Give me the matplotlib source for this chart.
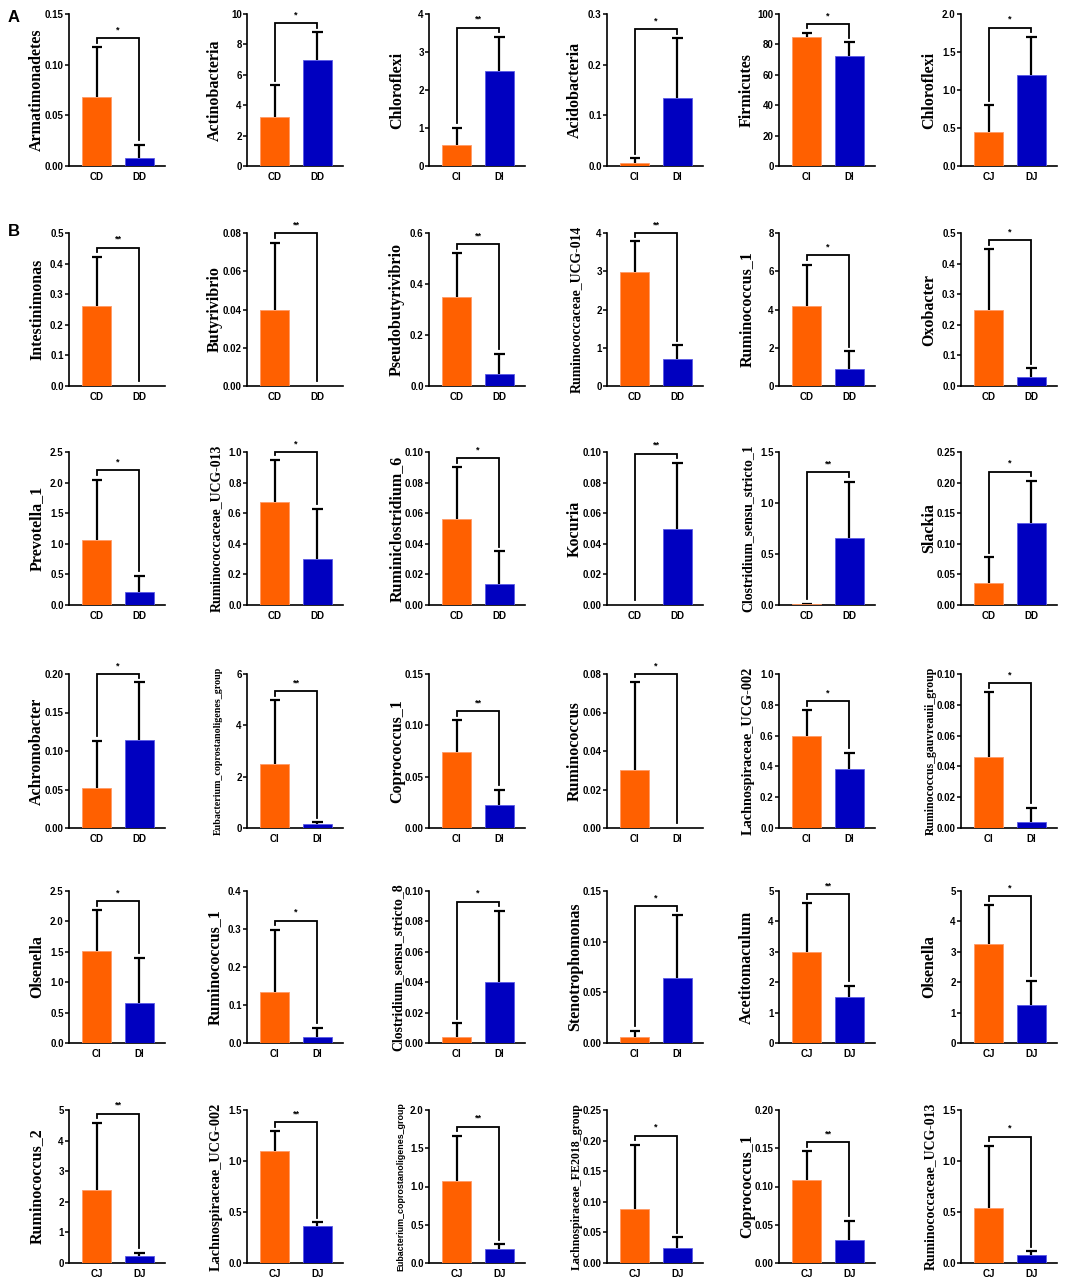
import matplotlib
matplotlib.use("Agg")
import matplotlib.pyplot as plt
import numpy as np

# ---- data ----
names = [
    "Armatimonadetes", "Actinobacteria", "Chloroflexi", "Acidobacteria", "Firmicutes", "Chloroflexi",
    "Intestinimonas", "Butyrivibrio", "Pseudobutyrivibrio", "Ruminococcaceae_UCG-014", "Ruminococcus_1", "Oxobacter",
    "Prevotella_1", "Ruminococcaceae_UCG-013", "Ruminiclostridium_6", "Kocuria", "Clostridium_sensu_stricto_1", "Slackia",
    "Achromobacter", "Eubacterium_coprostanoligenes_group", "Coprococcus_1", "Ruminococcus", "Lachnospiraceae_UCG-002", "Ruminococcus_gauvreauii_group",
    "Olsenella", "Ruminococcus_1", "Clostridium_sensu_stricto_8", "Stenotrophomonas", "Acetitomaculum", "Olsenella",
    "Ruminococcus_2", "Lachnospiraceae_UCG-002", "Eubacterium_coprostanoligenes_group", "Lachnospiraceae_FE2018_group", "Coprococcus_1", "Ruminococcaceae_UCG-013",
]
groups = [
    ("CD", "DD"), ("CD", "DD"), ("CI", "DI"), ("CI", "DI"), ("CI", "DI"), ("CJ", "DJ"),
    ("CD", "DD"), ("CD", "DD"), ("CD", "DD"), ("CD", "DD"), ("CD", "DD"), ("CD", "DD"),
    ("CD", "DD"), ("CD", "DD"), ("CD", "DD"), ("CD", "DD"), ("CD", "DD"), ("CD", "DD"),
    ("CD", "DD"), ("CI", "DI"), ("CI", "DI"), ("CI", "DI"), ("CI", "DI"), ("CI", "DI"),
    ("CI", "DI"), ("CI", "DI"), ("CI", "DI"), ("CI", "DI"), ("CJ", "DJ"), ("CJ", "DJ"),
    ("CJ", "DJ"), ("CJ", "DJ"), ("CJ", "DJ"), ("CJ", "DJ"), ("CJ", "DJ"), ("CJ", "DJ"),
]
mean_c = [0.068, 3.25, 0.55, 0.006, 85.0, 0.45,
          0.263, 0.040, 0.350, 2.97, 4.20, 0.250,
          1.06, 0.675, 0.056, 0.0, 0.008, 0.036,
          0.052, 2.48, 0.074, 0.030, 0.600, 0.046,
          1.51, 0.133, 0.004, 0.006, 3.00, 3.27,
          2.38, 1.10, 1.07, 0.089, 0.108, 0.54]
mean_d = [0.008, 6.95, 2.50, 0.134, 72.5, 1.20,
          0.0, 0.0, 0.048, 0.70, 0.90, 0.028,
          0.21, 0.300, 0.014, 0.050, 0.655, 0.134,
          0.114, 0.15, 0.022, 0.0, 0.383, 0.004,
          0.66, 0.016, 0.040, 0.064, 1.50, 1.25,
          0.23, 0.36, 0.18, 0.024, 0.030, 0.075]
sd_c = [0.049, 2.05, 0.45, 0.009, 2.5, 0.35,
        0.159, 0.035, 0.170, 0.81, 2.15, 0.197,
        0.99, 0.275, 0.034, 0.0, 0.004, 0.042,
        0.061, 2.50, 0.031, 0.046, 0.165, 0.042,
        0.67, 0.165, 0.009, 0.006, 1.60, 1.26,
        2.20, 0.19, 0.59, 0.104, 0.038, 0.61]
sd_d = [0.013, 1.85, 0.90, 0.118, 9.0, 0.50,
        0.0, 0.0, 0.078, 0.36, 0.92, 0.030,
        0.27, 0.330, 0.021, 0.043, 0.555, 0.069,
        0.075, 0.07, 0.015, 0.0, 0.104, 0.009,
        0.74, 0.024, 0.047, 0.062, 0.38, 0.80,
        0.10, 0.04, 0.065, 0.018, 0.025, 0.040]
y_max = [0.15, 10, 4, 0.3, 100, 2.0,
         0.5, 0.08, 0.6, 4, 8, 0.5,
         2.5, 1.0, 0.10, 0.10, 1.5, 0.25,
         0.20, 6, 0.15, 0.08, 1.0, 0.10,
         2.5, 0.4, 0.10, 0.15, 5, 5,
         5, 1.5, 2.0, 0.25, 0.20, 1.5]
y_step = [0.05, 2, 1, 0.1, 20, 0.5,
          0.1, 0.02, 0.2, 1, 2, 0.1,
          0.5, 0.2, 0.02, 0.02, 0.5, 0.05,
          0.05, 2, 0.05, 0.02, 0.2, 0.02,
          0.5, 0.1, 0.02, 0.05, 1, 1,
          1, 0.5, 0.5, 0.05, 0.05, 0.5]
sig = ["*", "*", "**", "*", "*", "*",
       "**", "**", "**", "**", "*", "*",
       "*", "*", "*", "**", "**", "*",
       "*", "**", "**", "*", "*", "*",
       "*", "*", "*", "*", "**", "*",
       "**", "**", "**", "*", "**", "*"]

ORANGE = "#FF6000"
BLUE = "#0000C0"
SERIF = ["Liberation Serif", "DejaVu Serif"]
SANS = ["Liberation Sans", "DejaVu Sans"]

W, H = 1084, 1282
col_left = [69, 247, 429, 607, 779, 961]
row_span = [(14, 166), (233, 386), (452, 605), (674, 828), (891, 1043), (1110, 1263)]
ax_w = 96
sans_label = {32}
LAB_FS = 11.5

fig = plt.figure(figsize=(W / 100, H / 100), dpi=100)
labels = []
for i in range(36):
    r, c = divmod(i, 6)
    top, bot = row_span[r]
    ax = fig.add_axes([col_left[c] / W, 1 - bot / H, ax_w / W, (bot - top) / H])
    ym = y_max[i]
    means = [mean_c[i], mean_d[i]]
    sds = [sd_c[i], sd_d[i]]
    x = np.array([0, 1])
    ax.bar(x, means, width=0.68, color=[ORANGE, BLUE],
           edgecolor=["#FF9A66", "#5A5AE6"], linewidth=0.6, zorder=3)
    # upper error bars only (SD), drawn as line + cap
    for xi, m, s in zip(x, means, sds):
        if s > 0:
            ax.plot([xi, xi], [m, m + s], color="black", lw=1.6, zorder=2,
                    clip_on=False, solid_capstyle="butt")
            ax.plot([xi - 0.12, xi + 0.12], [m + s, m + s], color="black", lw=1.6,
                    zorder=2, clip_on=False, solid_capstyle="butt")
    tops = [m + s for m, s in zip(means, sds)]
    by = min(max(tops) + 0.06 * ym, ym)
    ax.plot([0, 0, 1, 1], [tops[0] + 0.03 * ym, by, by, tops[1] + 0.03 * ym],
            color="black", lw=1.3, clip_on=False, zorder=4, solid_joinstyle="miter")
    ax.text(0.5, by + 0.025 * ym, sig[i], ha="center", va="bottom", fontsize=6.5,
            family=SANS, fontweight="bold", clip_on=False)

    ax.set_xlim(-0.65, 1.6)
    ax.set_ylim(0, ym)
    ticks = np.arange(0, ym + ym * 1e-6, y_step[i])
    dec = max(0, int(-np.floor(np.log10(y_step[i]) + 1e-9)))
    ax.set_yticks(ticks)
    ax.set_yticklabels([f"{t:.{dec}f}" for t in ticks], fontsize=7,
                       family=SANS, fontweight="bold")
    ax.set_xticks(x)
    ax.set_xticklabels(groups[i], fontsize=7, family=SANS, fontweight="bold")
    ax.tick_params(axis="x", length=0, pad=4)
    ax.tick_params(axis="y", length=3, width=1.1, pad=0.8, direction="out")
    for sp in ["top", "right"]:
        ax.spines[sp].set_visible(False)
    for sp in ["left", "bottom"]:
        ax.spines[sp].set_linewidth(1.2)
    lab = ax.set_ylabel(names[i], fontsize=LAB_FS,
                        family=SANS if i in sans_label else SERIF, fontweight="bold")
    ax.yaxis.set_label_coords(-0.25, 0.5)
    labels.append(lab)

# shrink long axis titles so they fit the panel height
fig.canvas.draw()
renderer = fig.canvas.get_renderer()
for lab in labels:
    h = lab.get_window_extent(renderer).height
    if h > 168:
        lab.set_fontsize(LAB_FS * 168 / h)

fig.text(8 / W, 1 - 22 / H, "A", fontsize=12, fontweight="bold", family=SANS)
fig.text(8 / W, 1 - 236 / H, "B", fontsize=12, fontweight="bold", family=SANS)

fig.savefig("out.png", dpi=100, facecolor="white")
